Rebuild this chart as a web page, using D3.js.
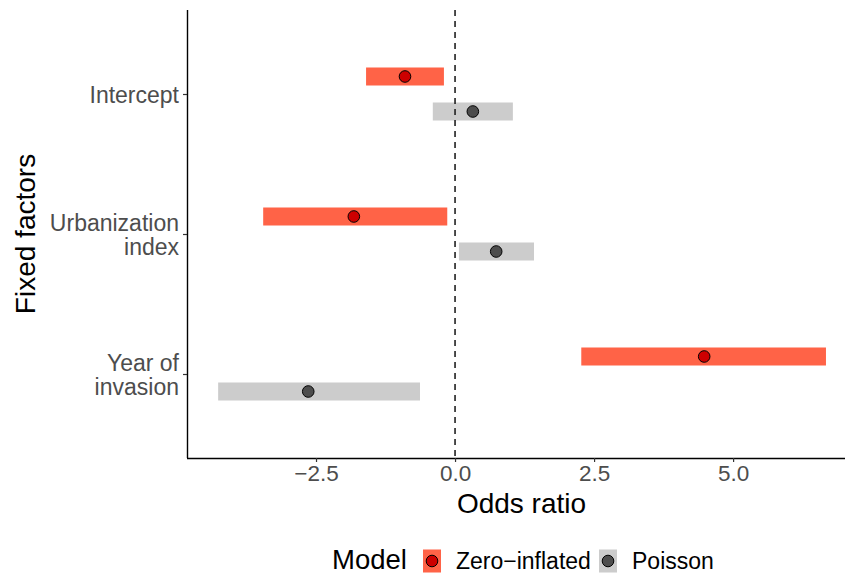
<!DOCTYPE html>
<html><head><meta charset="utf-8">
<script src="https://cdn.jsdelivr.net/npm/d3@7"></script>
<style>
body{margin:0;background:#fff;}
text{font-family:"Liberation Sans",Arial,Helvetica,sans-serif;}
</style></head>
<body><svg id="chart" width="845" height="574"></svg>
<script>
const factors = ["Intercept", "Urbanization index", "Year of invasion"];
const factorLines = [["Intercept"], ["Urbanization", "index"], ["Year of", "invasion"]];
const models = ["Zero-inflated", "Poisson"];
const ziEst  = [-0.90, -1.82, 4.48];
const ziLow  = [-1.60, -3.45, 2.27];
const ziHigh = [-0.20, -0.14, 6.67];
const poEst  = [0.32, 0.74, -2.64];
const poLow  = [-0.40, 0.07, -4.26];
const poHigh = [1.04, 1.42, -0.63];
const xTicks = [-2.5, 0, 2.5, 5];

const barColor = {"Zero-inflated": "#ff6347", "Poisson": "#cccccc"};
const ptColor = {"Zero-inflated": "#cd0000", "Poisson": "#4d4d4d"};

const data = [];
factors.forEach((f, i) => {
  data.push({factor: f, model: "Zero-inflated", est: ziEst[i], lo: ziLow[i], hi: ziHigh[i]});
  data.push({factor: f, model: "Poisson", est: poEst[i], lo: poLow[i], hi: poHigh[i]});
});

const svg = d3.select("#chart");
const pL = 187, pR = 856, pT = 10, pB = 458;

const x = d3.scaleLinear().domain([-4.82, 7.21]).range([pL, pR]);
const y = d3.scalePoint().domain(factors).range([pT, pB]).padding(0.6);
const step = y.step();
const dodge = d3.scalePoint().domain(models).range([-0.125 * step, 0.125 * step]);
const barH = 18;

// bars
svg.append("g").selectAll("rect").data(data).join("rect")
  .attr("x", d => x(d.lo))
  .attr("width", d => x(d.hi) - x(d.lo))
  .attr("y", d => y(d.factor) + dodge(d.model) - barH / 2)
  .attr("height", barH)
  .attr("fill", d => barColor[d.model]);

// dashed zero line
svg.append("line")
  .attr("x1", x(0)).attr("x2", x(0))
  .attr("y1", pT).attr("y2", pB)
  .attr("stroke", "#222").attr("stroke-width", 1.6)
  .attr("stroke-dasharray", "6,5");

// points
svg.append("g").selectAll("circle").data(data).join("circle")
  .attr("cx", d => x(d.est))
  .attr("cy", d => y(d.factor) + dodge(d.model))
  .attr("r", 5.8)
  .attr("fill", d => ptColor[d.model])
  .attr("stroke", "#000").attr("stroke-width", 1);

// x axis
const xAxis = svg.append("g").attr("transform", `translate(0,${pB})`)
  .call(d3.axisBottom(x).tickValues(xTicks).tickFormat(d3.format(".1f")).tickSizeOuter(0).tickSize(4).tickPadding(3));
xAxis.select(".domain").attr("stroke", "#000").attr("stroke-width", 1.4).attr("d", `M${pL},0.5H${pR}`);
xAxis.selectAll(".tick line").attr("stroke", "#333").attr("stroke-width", 1.2);
xAxis.selectAll(".tick text").attr("font-size", 22.5).attr("fill", "#4d4d4d").attr("font-family", "Liberation Sans, Arial, sans-serif");

// y axis
const yAxis = svg.append("g").attr("transform", `translate(${pL},0)`)
  .call(d3.axisLeft(y).tickSizeOuter(0).tickSize(4).tickFormat(""));
yAxis.select(".domain").attr("stroke", "#000").attr("stroke-width", 1.4).attr("d", `M0.5,${pT}V${pB}`);
yAxis.selectAll(".tick line").attr("stroke", "#333").attr("stroke-width", 1.2);
yAxis.selectAll(".tick").each(function(d) {
  const lines = factorLines[factors.indexOf(d)];
  const t = d3.select(this).append("text")
    .attr("x", -8).attr("text-anchor", "end")
    .attr("font-size", 23).attr("fill", "#4d4d4d");
  const lh = 24;
  lines.forEach((ln, k) => {
    t.append("tspan").attr("x", -8)
      .attr("y", (k - (lines.length - 1) / 2) * lh)
      .attr("dy", "0.35em").text(ln);
  });
});

// axis titles
svg.append("text").attr("x", (pL + pR) / 2).attr("y", 513)
  .attr("text-anchor", "middle").attr("font-size", 28).attr("fill", "#000").text("Odds ratio");
svg.append("text").attr("transform", `translate(35,${(pT + pB) / 2}) rotate(-90)`)
  .attr("text-anchor", "middle").attr("font-size", 28).attr("fill", "#000").text("Fixed factors");

// legend
const lg = svg.append("g");
const ly = 561;
lg.append("text").attr("x", 332).attr("y", 569)
  .attr("font-size", 27.5).text("Model");
const keyX = {"Zero-inflated": 423, "Poisson": 599};
models.forEach(m => {
  const kx = keyX[m];
  lg.append("rect").attr("x", kx).attr("y", ly - 11.5).attr("width", 18).attr("height", 23)
    .attr("fill", barColor[m]);
  lg.append("circle").attr("cx", kx + 9).attr("cy", ly).attr("r", 5.8)
    .attr("fill", ptColor[m]).attr("stroke", "#000").attr("stroke-width", 1);
  lg.append("text").attr("x", kx + 33).attr("y", 569)
    .attr("font-size", 23).text(m === "Zero-inflated" ? "Zero\u2212inflated" : m);
});
</script></body></html>
